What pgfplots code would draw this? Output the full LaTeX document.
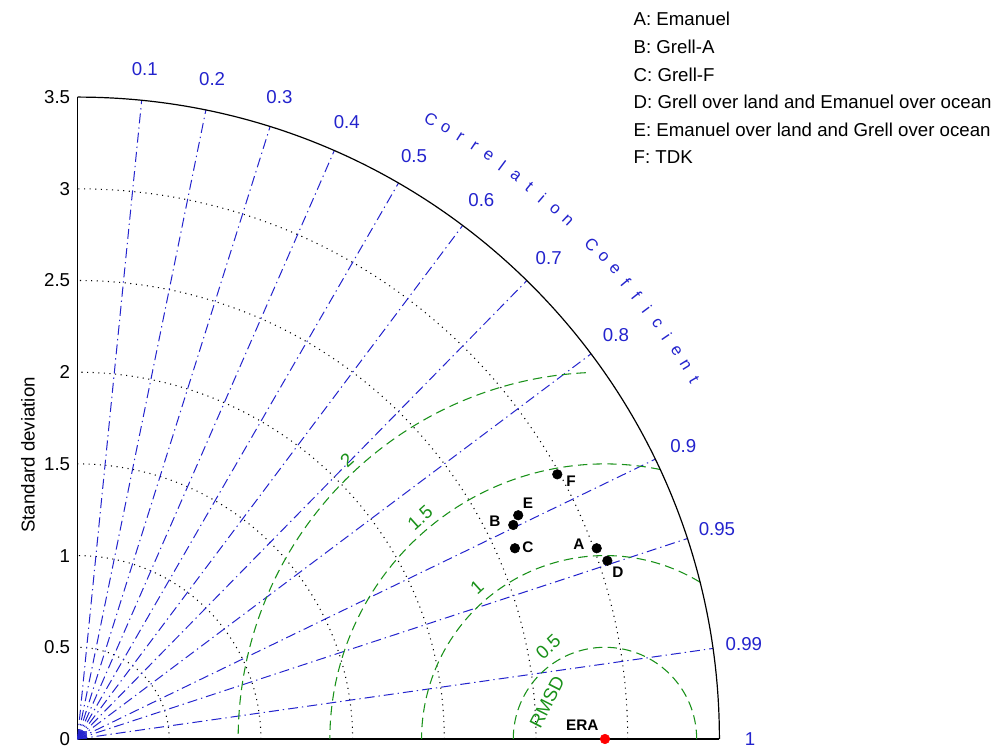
\documentclass[border=0pt]{standalone}
\usepackage{pgfplots}
\pgfplotsset{compat=1.18}
\usepackage{pgfplotstable}
\usepackage{fontspec}
\setmainfont{Liberation Sans}
\definecolor{cblue}{RGB}{35,35,205}
\definecolor{cgreen}{RGB}{25,145,25}

\pgfplotstableread{
x y
2.831 1.040
2.376 1.167
2.385 1.040
2.889 0.972
2.403 1.220
2.616 1.443
}\models

\begin{document}
\begin{tikzpicture}
\begin{axis}[
  x=137.55pt, y=137.55pt,
  anchor=origin, at={(0,0)},
  xmin=0, xmax=3.5, ymin=0, ymax=3.5,
  axis x line*=bottom, axis y line*=left,
  axis line style={line width=0.9pt},
  xtick=\empty,
  ytick={0,0.5,1,1.5,2,2.5,3,3.5},
  major tick length=0pt,
  clip=false,
  tick label style={font=\fontsize{14}{16}\selectfont},
  yticklabel style={/pgf/number format/assume math mode=true, xshift=-2pt},
]
\coordinate (O) at (axis cs:0,0);
% std dotted arcs
\pgfplotsinvokeforeach{0.5,1,1.5,2,2.5,3}{
  \draw[black, line width=0.8pt, dash pattern=on 0.8pt off 3.4pt] (axis cs:#1,0) arc[start angle=0, end angle=90, radius={#1*137.55pt}];
}
\fill[cblue, opacity=0.8] (axis cs:0,0) rectangle (axis cs:0.05,0.045);
% correlation lines
\pgfplotsinvokeforeach{0.1,0.2,0.3,0.4,0.5,0.6,0.7,0.8,0.9,0.95,0.99}{
  \draw[cblue, line width=0.75pt, dash pattern=on 7.5pt off 3pt on 1pt off 3pt] (axis cs:0,0) -- (axis cs:{3.5*#1},{3.5*sqrt(1-#1*#1)});
  \node[cblue, font=\fontsize{14}{16}\selectfont] at (axis cs:{3.67*#1},{3.67*sqrt(1-#1*#1)}) {#1};
}
\node[cblue, font=\fontsize{14}{16}\selectfont] at (axis cs:3.667,0) {1};
% RMSD arcs
\draw[cgreen, line width=0.8pt, dash pattern=on 7pt off 4pt] (axis cs:{2.876+2*cos(93)},{2*sin(93)}) arc[start angle=93, end angle=180, radius={2*137.55pt}];
\draw[cgreen, line width=0.8pt, dash pattern=on 7pt off 4pt] (axis cs:{2.876+1.5*cos(78.4)},{1.5*sin(78.4)}) arc[start angle=78.4, end angle=180, radius={1.5*137.55pt}];
\draw[cgreen, line width=0.8pt, dash pattern=on 7pt off 4pt] (axis cs:{2.876+1*cos(58.8)},{1*sin(58.8)}) arc[start angle=58.8, end angle=180, radius={1*137.55pt}];
\draw[cgreen, line width=0.8pt, dash pattern=on 7pt off 4pt] (axis cs:3.376,0) arc[start angle=0, end angle=180, radius={0.5*137.55pt}];
% RMSD labels
\begin{scope}[font=\fontsize{14}{14}\selectfont, inner sep=1pt]
\node[cgreen, rotate=42] at (axis cs:1.469,1.521) {2};
\node[cgreen, rotate=42] at (axis cs:1.868,1.205) {1.5};
\node[cgreen, rotate=42] at (axis cs:2.178,0.829) {1};
\node[cgreen, rotate=43] at (axis cs:2.566,0.502) {0.5};
\node[cgreen, rotate=63] at (axis cs:2.560,0.200) {RMSD};
\end{scope}
% outer arc
\draw[black, line width=0.9pt] (axis cs:3.5,0) arc[start angle=0, end angle=90, radius={3.5*137.55pt}];
% data
\addplot[only marks, mark=*, mark size=3.6pt, black] table[x=x, y=y] {\models};
\addplot[only marks, mark=*, mark size=3.6pt, red] coordinates {(2.876,0)};
% point labels
\begin{scope}[font=\fontsize{11.5}{12}\selectfont\bfseries]
\node at (axis cs:2.734,1.063) {A};
\node at (axis cs:2.276,1.189) {B};
\node at (axis cs:2.456,1.047) {C};
\node at (axis cs:2.947,0.911) {D};
\node at (axis cs:2.456,1.287) {E};
\node at (axis cs:2.691,1.407) {F};
\node at (axis cs:2.752,0.076) {ERA};
\end{scope}
% y label
\node[rotate=90, font=\fontsize{14}{16}\selectfont] at (axis cs:-0.270,1.549) {Standard deviation};
% legend
\begin{scope}[font=\fontsize{14}{16}\selectfont]
\node[anchor=west, inner sep=0pt] at (axis cs:3.031,3.924) {A: Emanuel};
\node[anchor=west, inner sep=0pt] at (axis cs:3.031,3.774) {B: Grell-A};
\node[anchor=west, inner sep=0pt] at (axis cs:3.031,3.624) {C: Grell-F};
\node[anchor=west, inner sep=0pt] at (axis cs:3.031,3.474) {D: Grell over land and Emanuel over ocean};
\node[anchor=west, inner sep=0pt] at (axis cs:3.031,3.324) {E: Emanuel over land and Grell over ocean};
\node[anchor=west, inner sep=0pt] at (axis cs:3.031,3.174) {F: TDK};
\end{scope}
\end{axis}
% Correlation Coefficient text along arc
\foreach \ch [count=\i from 0] in {C,o,r,r,e,l,a,t,i,o,n,{},C,o,e,f,f,i,c,i,e,n,t} {
  \pgfmathsetmacro\ang{60.3-\i*30.1/22}
  \node[cblue, rotate=\ang-90, font=\fontsize{12.5}{13}\selectfont, inner sep=0pt] at ([shift={(\ang:535.1pt)}]O) {\ch};
}
\pgfresetboundingbox
\path[use as bounding box] ([shift={(-58.125pt,-7.5pt)}]O) rectangle ([shift={(693.375pt,554.25pt)}]O);
\end{tikzpicture}
\end{document}
